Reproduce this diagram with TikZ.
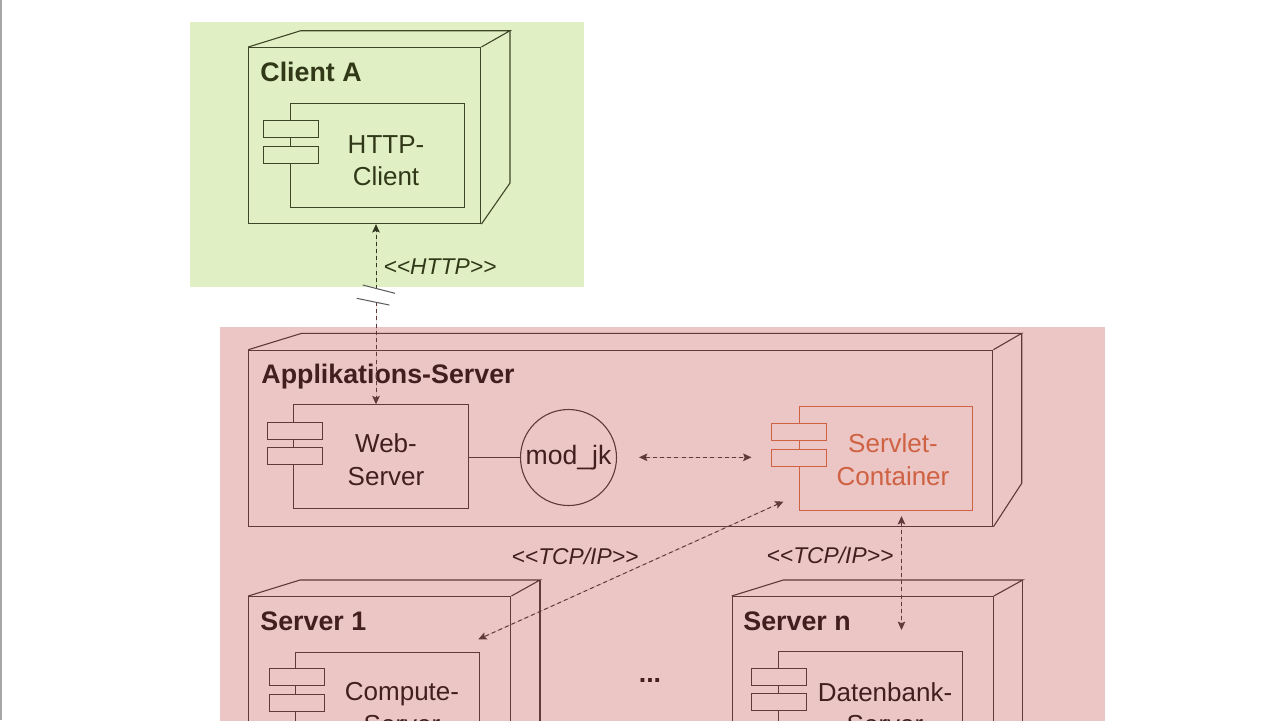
\documentclass[tikz,border=0pt]{standalone}
\usepackage{fontspec}
\setmainfont{Liberation Sans}
\usetikzlibrary{arrows.meta}
\definecolor{greenbg}{RGB}{225,240,196}
\definecolor{pinkbg}{RGB}{236,197,197}
\definecolor{oliveline}{RGB}{62,70,40}
\definecolor{olivetext}{RGB}{48,56,24}
\definecolor{brownline}{RGB}{96,58,58}
\definecolor{browntext}{RGB}{66,30,30}
\definecolor{servletc}{RGB}{206,98,66}
\tikzset{
  gline/.style={draw=oliveline, line width=0.55pt},
  pline/.style={draw=brownline, line width=0.55pt},
  frontbox/.style={rectangle, inner sep=0pt},
  compbox/.style={rectangle, inner sep=0pt, minimum height=52pt},
  portbox/.style={rectangle, inner sep=0pt, minimum width=27.5pt, minimum height=8.5pt},
  titletext/.style={inner sep=0pt, font=\fontsize{13.4}{16}\selectfont\bfseries},
  comptext/.style={inner sep=0pt, align=center, font=\fontsize{13}{16.2}\selectfont},
  stereo/.style={inner sep=0pt, font=\fontsize{11.4}{13}\selectfont\itshape},
  dep/.style={dash pattern=on 2pt off 1.6pt, line width=0.5pt},
  tip/.style={-{Stealth[length=4.2pt,width=3.8pt,inset=0.8pt]}},
  bitip/.style={{Stealth[length=4.2pt,width=3.8pt,inset=0.8pt]}-{Stealth[length=4.2pt,width=3.8pt,inset=0.8pt]}},
}
\begin{document}
\begin{tikzpicture}[x=0.5pt,y=-0.5pt]
\useasboundingbox (0,0) rectangle (1280,720);
\clip (0,0) rectangle (1280,720);
\fill[white] (0,0) rectangle (1280,720);
\draw[gray!70, line width=1pt] (1,0) -- (1,720);

% backgrounds
\fill[greenbg] (190,22) rectangle (583.5,286.5);
\fill[pinkbg] (220,327) rectangle (1105,730);

% ---------- Client A ----------
\node[frontbox, gline, minimum width=116pt, minimum height=88pt, anchor=north west] (cA) at (248.3,47) {};
\draw[gline] (cA.north west) -- (300.7,30.7) -- (510,30.7) -- (cA.north east);
\draw[gline] (510,30.7) -- (510,183) -- (cA.south east);
\node[titletext, text=olivetext, anchor=base west] (cAt) at (260,81.5) {Client A};
\node[compbox, gline, minimum width=87pt, anchor=north west] (hc) at (290,103.3) {};
\node[portbox, gline, fill=greenbg, anchor=north west] (hc1) at (263.3,120.3) {};
\node[portbox, gline, fill=greenbg, anchor=north west] (hc2) at (263.3,146) {};
\node[comptext, text=olivetext] (hct) at (386,160.5) {HTTP-\\Client};

% ---------- Applikations-Server ----------
\node[frontbox, pline, minimum width=372pt, minimum height=88pt, anchor=north west] (as) at (248.3,349.7) {};
\draw[pline] (as.north west) -- (301.7,333.3) -- (1021.7,333.3) -- (as.north east);
\draw[pline] (1021.7,333.3) -- (1021.7,483.3) -- (as.south east);
\node[titletext, text=browntext, anchor=base west] (ast) at (261,383.5) {Applikations-Server};

\node[compbox, pline, minimum width=87.5pt, anchor=north west] (ws) at (293.3,404.3) {};
\node[portbox, pline, fill=pinkbg, anchor=north west] (ws1) at (266.7,421.7) {};
\node[portbox, pline, fill=pinkbg, anchor=north west] (ws2) at (266.7,447.3) {};
\node[comptext, text=browntext] (wst) at (386,459.5) {Web-\\Server};

\node[circle, pline, minimum size=48pt, inner sep=0pt, text=browntext, font=\fontsize{13.3}{15.8}\selectfont] (mod) at (568.5,457.5) {mod\_jk};
\draw[pline] (ws.east |- mod.west) -- (mod.west);

\node[compbox, draw=servletc, line width=0.55pt, minimum width=86.5pt, anchor=north west] (sc) at (799.3,406) {};
\node[portbox, draw=servletc, line width=0.55pt, fill=pinkbg, anchor=north west] (sc1) at (771,423.3) {};
\node[portbox, draw=servletc, line width=0.55pt, fill=pinkbg, anchor=north west] (sc2) at (771,449) {};
\node[comptext, text=servletc] (sct) at (893,459.5) {Servlet-\\Container};

% ---------- Server 1 ----------
\node[frontbox, pline, minimum width=131pt, minimum height=110pt, anchor=north west] (s1) at (248.3,596) {};
\draw[pline] (s1.north west) -- (300,580) -- (540,580) -- (s1.north east);
\draw[pline] (540,580) -- (540,740);
\node[titletext, text=browntext, anchor=base west] (s1t) at (260,630) {Server 1};
\node[compbox, pline, minimum width=92pt, minimum height=60pt, anchor=north west] (cs) at (295,651.7) {};
\node[portbox, pline, fill=pinkbg, anchor=north west] (cs1) at (269,668.3) {};
\node[portbox, pline, fill=pinkbg, anchor=north west] (cs2) at (269,694) {};
\node[comptext, text=browntext] (cst) at (402,708) {Compute-\\Server};

% ---------- Server n ----------
\node[frontbox, pline, minimum width=130.5pt, minimum height=110pt, anchor=north west] (sn) at (731.7,596) {};
\draw[pline] (sn.north west) -- (783.3,580) -- (1022.7,580) -- (sn.north east);
\draw[pline] (1022.7,580) -- (1022.7,740);
\node[titletext, text=browntext, anchor=base west] (snt) at (743,630) {Server n};
\node[compbox, pline, minimum width=92pt, minimum height=60pt, anchor=north west] (db) at (778.3,651) {};
\node[portbox, pline, fill=pinkbg, anchor=north west] (db1) at (751,668.3) {};
\node[portbox, pline, fill=pinkbg, anchor=north west] (db2) at (751,693.3) {};
\node[comptext, text=browntext] (dbt) at (885,708) {Datenbank-\\Server};

\node[inner sep=0pt, text=browntext, font=\fontsize{13.4}{16}\selectfont\bfseries] (dots) at (650,680) {...};

% ---------- connectors ----------
\coordinate (h1) at (376,289);
\coordinate (h2) at (376,302);
\draw[dep, tip, draw=oliveline!80!black, fill=oliveline] (h1) -- (h1 |- cA.south);
\draw[dep, tip, draw=brownline, fill=brownline] (h2) -- (h2 |- ws.north);
\draw[line width=0.5pt, draw=black!65] (362.7,285) -- (395,293.3);
\draw[line width=0.5pt, draw=black!65] (356.7,298.3) -- (389.3,305);
\node[stereo, text=olivetext] (lhttp) at (440,267) {{<}{<}HTTP{>}{>}};

\coordinate (m1) at (639,457.3);
\coordinate (m2) at (751.5,457.3);
\draw[dep, bitip, draw=brownline, fill=brownline] (m1) -- (m2);

\coordinate (v1) at (901.5,516);
\coordinate (v2) at (901.5,630);
\draw[dep, bitip, draw=brownline, fill=brownline] (v1) -- (v2);
\node[stereo, text=browntext] (ltcp2) at (830,555) {{<}{<}TCP/IP{>}{>}};

\coordinate (d1) at (783.5,501.5);
\coordinate (d2) at (478.3,639.3);
\draw[dep, bitip, draw=brownline, fill=brownline] (d1) -- (d2);
\node[stereo, text=browntext] (ltcp1) at (575,556) {{<}{<}TCP/IP{>}{>}};
\end{tikzpicture}
\end{document}
